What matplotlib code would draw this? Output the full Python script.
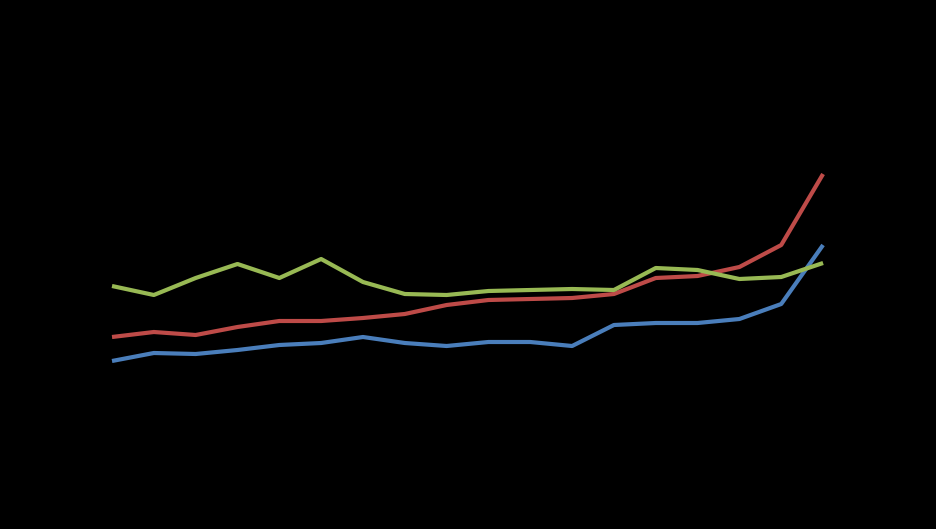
import matplotlib
matplotlib.use("Agg")
import matplotlib.pyplot as plt

# 18 periods, values (arbitrary units, 0 = bottom edge)
periods = list(range(18))
blue = [168, 176, 175, 179, 184, 186, 192, 186, 183, 187, 187, 183, 204, 206, 206, 210, 225, 284]
red = [192, 197, 194, 202, 208, 208, 211, 215, 224, 229, 230, 231, 235, 251, 253, 262, 284, 355]
green = [243, 234, 251, 265, 251, 270, 247, 235, 234, 238, 239, 240, 239, 261, 259, 250, 252, 266]

fig = plt.figure(figsize=(9.36, 5.29), dpi=100, facecolor="black")
ax = fig.add_axes([0, 0, 1, 1])
ax.set_facecolor("black")

for vals, col in [(blue, "#4a7ebb"), (red, "#be4b48"), (green, "#98b954")]:
    ax.plot(periods, vals, color=col, lw=3.0,
            solid_joinstyle="round", solid_capstyle="butt")

ax.set_xlim(-2.678, 19.70)
ax.set_ylim(0, 529)
ax.axis("off")

fig.savefig("out.png", dpi=100, facecolor="black")
